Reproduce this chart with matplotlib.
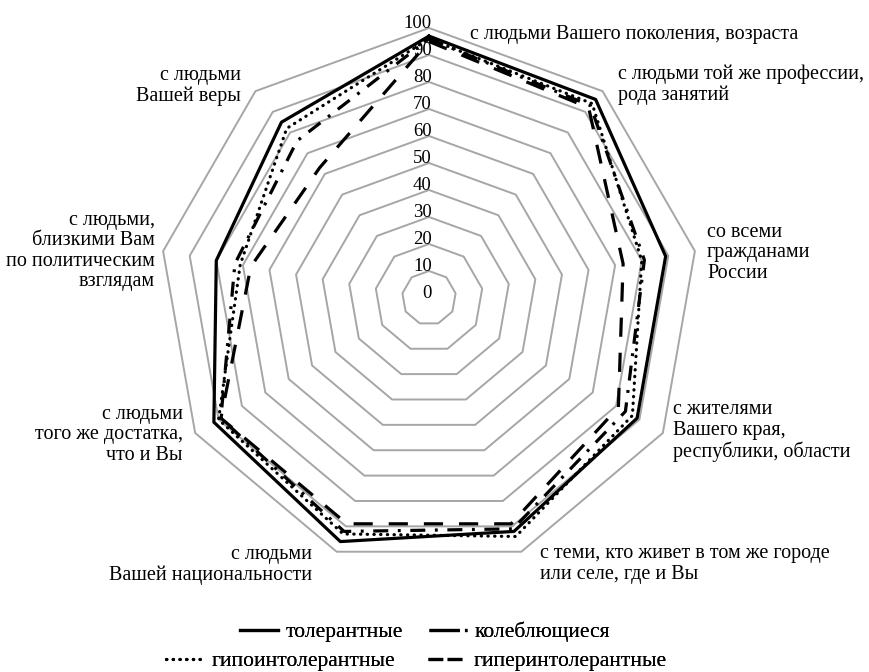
import numpy as np
import matplotlib
matplotlib.use("Agg")
import matplotlib.pyplot as plt
from matplotlib.lines import Line2D

plt.rcParams['font.family'] = ['Liberation Serif', 'DejaVu Serif']

categories = [
    "с людьми Вашего поколения, возраста",
    "с людьми той же профессии,\nрода занятий",
    "со всеми\nгражданами\nРоссии",
    "с жителями\nВашего края,\nреспублики, области",
    "с теми, кто живет в том же городе\nили селе, где и Вы",
    "с людьми\nВашей национальности",
    "с людьми\nтого же достатка,\nчто и Вы",
    "с людьми,\nблизкими Вам\nпо политическим\nвзглядам",
    "с людьми\nВашей веры",
]
series_names = ["толерантные", "колеблющиеся", "гипоинтолерантные", "гиперинтолерантные"]
tolerant = [97, 96, 89, 89, 92, 96, 92, 80, 85]
hesitant = [96, 93, 81, 84, 91, 92, 89, 73, 76]
hypo = [96, 94, 80, 87, 94, 93, 90, 71, 82]
hyper = [95, 92, 73, 81, 89, 89, 89, 67, 63]
tick_values = [0, 10, 20, 30, 40, 50, 60, 70, 80, 90, 100]

W, H = 869, 672
fig = plt.figure(figsize=(W / 100, H / 100), dpi=100)

cx, cy, R = 429, 298, 270


def fx(x):
    return x / W


def fy(y):
    return 1 - y / H


ax = fig.add_axes([fx(cx - R), fy(cy + R), 2 * R / W, 2 * R / H], projection='polar')
ax.set_theta_offset(np.pi / 2)
ax.set_theta_direction(-1)
ax.set_ylim(0, 100)
ax.grid(False)
ax.set_xticks([])
ax.set_yticks([])
ax.spines['polar'].set_visible(False)
ax.patch.set_visible(False)

n = len(categories)
theta = np.linspace(0, 2 * np.pi, n, endpoint=False)
theta_c = np.append(theta, theta[0])

# grid rings
for v in tick_values[1:]:
    ax.plot(theta_c, [v] * (n + 1), color='#A6A6A6', lw=1.4, clip_on=False, zorder=1)


def closed(vals):
    return list(vals) + [vals[0]]


lw = 2.3
ls_hes = (0, (4.7, 3, 0.9, 3))
ls_hypo = (0, (0.1, 2.0))
ls_hyp = (0, (6, 5))
ax.plot(theta_c, closed(tolerant), color='black', lw=lw, clip_on=False, zorder=3)
ax.plot(theta_c, closed(hesitant), color='black', lw=lw, clip_on=False, zorder=3,
        linestyle=ls_hes)
ax.plot(theta_c, closed(hypo), color='black', lw=lw, clip_on=False, zorder=3,
        linestyle=ls_hypo, dash_capstyle='round')
ax.plot(theta_c, closed(hyper), color='black', lw=lw, clip_on=False, zorder=3,
        linestyle=ls_hyp)

# radial tick labels along top axis (right-aligned at the axis, slightly above ring)
for v in tick_values:
    ax.annotate(str(v), xy=(0, v), xytext=(2, 3), textcoords='offset points',
                ha='right', va='center', fontsize=13.5, zorder=2)

# category labels
fs = 14.5
lsp = 1.1
label_pos = [
    (470, 35, 'left'),
    (618, 85, 'left'),
    (707, 253, 'left'),
    (673, 431, 'left'),
    (540, 564, 'left'),
    (312, 565, 'right'),
    (183, 435, 'right'),
    (155, 251, 'right'),
    (241, 86, 'right'),
]
for lab, (x, y, ha) in zip(categories, label_pos):
    fig.text(fx(x), fy(y), lab, ha=ha, va='center', fontsize=fs, multialignment=ha,
             linespacing=lsp)

# legend (Excel-like layout), proxy handles
h_tol = Line2D([], [], color='black', lw=lw)
h_hes = Line2D([], [], color='black', lw=lw, linestyle=(0, (9.5, 1.6, 0.9, 3)))
h_hypo = Line2D([], [], color='black', lw=lw, linestyle=ls_hypo, dash_capstyle='round')
h_hyp = Line2D([], [], color='black', lw=lw, linestyle=(0, (4.6, 1.4)))
entries = [
    (h_tol, series_names[0], 240, 632),
    (h_hypo, series_names[2], 166, 661),
    (h_hes, series_names[1], 429, 632),
    (h_hyp, series_names[3], 428, 661),
]
for h, lab, x, y in entries:
    leg = fig.legend([h], [lab], loc='center left', bbox_to_anchor=(fx(x), fy(y)),
                     frameon=False, fontsize=15.5, handlelength=1.75, handletextpad=0.35,
                     borderpad=0, borderaxespad=0)
    fig.add_artist(leg)

fig.savefig('out.png', dpi=100)
